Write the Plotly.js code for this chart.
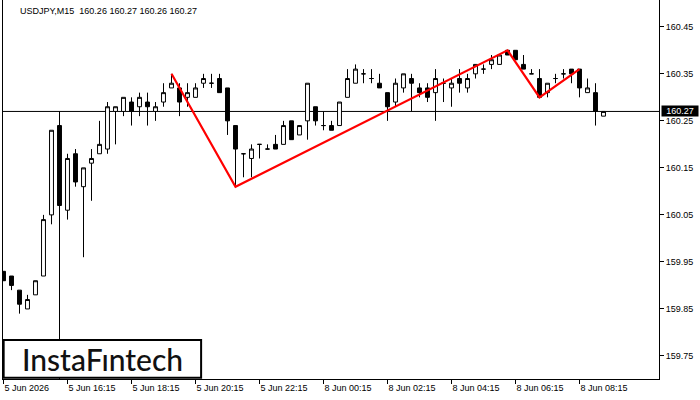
<!DOCTYPE html>
<html>
<head>
<meta charset="utf-8">
<script src="https://cdn.plot.ly/plotly-3.0.1.min.js"></script>
<style>
  html, body { margin: 0; padding: 0; background: #ffffff; }
  #chart { width: 700px; height: 400px; }
</style>
</head>
<body>
<div id="chart"></div>
<script>
// 15-minute bars, USDJPY
const times = [
  "5 Jun 14:15","5 Jun 14:30","5 Jun 14:45","5 Jun 15:00","5 Jun 15:15","5 Jun 15:30","5 Jun 15:45","5 Jun 16:00",
  "5 Jun 16:15","5 Jun 16:30","5 Jun 16:45","5 Jun 17:00","5 Jun 17:15","5 Jun 17:30","5 Jun 17:45","5 Jun 18:00",
  "5 Jun 18:15","5 Jun 18:30","5 Jun 18:45","5 Jun 19:00","5 Jun 19:15","5 Jun 19:30","5 Jun 19:45","5 Jun 20:00",
  "5 Jun 20:15","5 Jun 20:30","5 Jun 20:45","5 Jun 21:00","5 Jun 21:15","5 Jun 21:30","5 Jun 21:45","5 Jun 22:00",
  "5 Jun 22:15","5 Jun 22:30","5 Jun 22:45","5 Jun 23:00","5 Jun 23:15","5 Jun 23:30","5 Jun 23:45",
  "8 Jun 00:00","8 Jun 00:15","8 Jun 00:30","8 Jun 00:45","8 Jun 01:00","8 Jun 01:15","8 Jun 01:30","8 Jun 01:45",
  "8 Jun 02:00","8 Jun 02:15","8 Jun 02:30","8 Jun 02:45","8 Jun 03:00","8 Jun 03:15","8 Jun 03:30","8 Jun 03:45",
  "8 Jun 04:00","8 Jun 04:15","8 Jun 04:30","8 Jun 04:45","8 Jun 05:00","8 Jun 05:15","8 Jun 05:30","8 Jun 05:45",
  "8 Jun 06:00","8 Jun 06:15","8 Jun 06:30","8 Jun 06:45","8 Jun 07:00","8 Jun 07:15","8 Jun 07:30","8 Jun 07:45",
  "8 Jun 08:00","8 Jun 08:15","8 Jun 08:30","8 Jun 08:45","8 Jun 09:00"
];

const open = [
  159.93,159.92,159.89,159.85,159.88,159.92,160.05,160.24,
  160.06,160.18,160.11,160.16,160.18,160.19,160.27,160.27,
  160.29,160.28,160.29,160.27,160.29,160.32,160.32,160.30,
  160.30,160.33,160.33,160.34,160.32,160.24,160.18,160.17,
  160.20,160.19,160.20,160.20,160.25,160.22,160.25,
  160.28,160.24,160.24,160.24,160.30,160.33,160.35,160.34,
  160.33,160.31,160.29,160.32,160.34,160.32,160.32,160.31,
  160.33,160.32,160.34,160.32,160.35,160.36,160.37,160.37,
  160.40,160.40,160.37,160.35,160.34,160.31,160.34,160.35,
  160.36,160.36,160.31,160.31,160.26
];
const high = [
  159.93,159.92,159.89,159.88,159.91,160.05,160.23,160.27,
  160.18,160.19,160.15,160.19,160.25,160.29,160.28,160.30,
  160.30,160.31,160.31,160.29,160.33,160.35,160.33,160.33,
  160.33,160.35,160.35,160.35,160.32,160.24,160.18,160.20,
  160.20,160.20,160.22,160.25,160.25,160.24,160.33,
  160.28,160.27,160.25,160.29,160.36,160.37,160.36,160.36,
  160.35,160.31,160.34,160.35,160.35,160.33,160.33,160.36,
  160.34,160.34,160.36,160.35,160.37,160.37,160.39,160.39,
  160.40,160.40,160.39,160.36,160.36,160.33,160.35,160.36,
  160.36,160.36,160.34,160.33,160.27
];
const low = [
  159.91,159.89,159.84,159.85,159.88,159.92,160.03,160.06,
  160.04,160.11,159.96,160.08,160.18,160.18,160.20,160.26,
  160.24,160.26,160.24,160.25,160.28,160.32,160.26,160.28,
  160.30,160.32,160.32,160.31,160.22,160.11,160.13,160.13,
  160.17,160.19,160.19,160.20,160.21,160.22,160.21,
  160.24,160.23,160.23,160.24,160.30,160.33,160.33,160.33,
  160.32,160.25,160.28,160.31,160.27,160.30,160.29,160.25,
  160.29,160.28,160.31,160.31,160.34,160.35,160.36,160.37,
  160.39,160.38,160.36,160.35,160.30,160.30,160.33,160.34,
  160.33,160.30,160.31,160.24,160.26
];
const close = [
  159.91,159.90,159.86,159.87,159.91,160.04,160.23,160.07,
  160.17,160.12,160.15,160.17,160.20,160.28,160.28,160.30,
  160.27,160.30,160.28,160.28,160.31,160.33,160.29,160.31,
  160.32,160.34,160.33,160.31,160.25,160.19,160.18,160.19,
  160.20,160.19,160.19,160.24,160.21,160.24,160.33,
  160.25,160.24,160.23,160.29,160.34,160.36,160.35,160.34,
  160.32,160.28,160.33,160.35,160.33,160.31,160.30,160.34,
  160.33,160.33,160.33,160.34,160.37,160.36,160.38,160.39,
  160.39,160.38,160.36,160.35,160.30,160.33,160.34,160.35,
  160.35,160.32,160.32,160.27,160.27
];

// Pattern (red) line vertices
const patternTimes = ["5 Jun 19:30","5 Jun 21:30","8 Jun 06:00","8 Jun 07:00","8 Jun 08:15"];
const patternPrices = [160.35, 160.11, 160.40, 160.30, 160.36];

// Axis ticks
const xTickVals = ["5 Jun 14:15","5 Jun 16:15","5 Jun 18:15","5 Jun 20:15","5 Jun 22:15",
                   "8 Jun 00:15","8 Jun 02:15","8 Jun 04:15","8 Jun 06:15","8 Jun 08:15"];
const xTickText = ["5 Jun 2026","5 Jun 16:15","5 Jun 18:15","5 Jun 20:15","5 Jun 22:15",
                   "8 Jun 00:15","8 Jun 02:15","8 Jun 04:15","8 Jun 06:15","8 Jun 08:15"];
const yTickVals = [159.75, 159.85, 159.95, 160.05, 160.15, 160.25, 160.35, 160.45];
const yTickText = ["159.75","159.85","159.95","160.05","160.15","160.25","160.35","160.45"];

const bidPrice = 160.27;
const markerTime = "5 Jun 16:00";
const headerText = "USDJPY,M15  160.26 160.27 160.26 160.27";
const yRange = [159.701, 160.507];

const FONT = "Liberation Sans, Arial, sans-serif";

const traces = [
  {
    type: "candlestick",
    x: times, open: open, high: high, low: low, close: close,
    increasing: { line: { color: "#000000", width: 1 }, fillcolor: "#ffffff" },
    decreasing: { line: { color: "#000000", width: 1 }, fillcolor: "#000000" },
    whiskerwidth: 0,
    hoverinfo: "skip",
    showlegend: false
  },
  {
    type: "scatter", mode: "lines",
    x: patternTimes, y: patternPrices,
    line: { color: "#ff0000", width: 2.2 },
    hoverinfo: "skip", showlegend: false
  }
];

const layout = {
  width: 700, height: 400,
  margin: { l: 3, r: 41, t: 0, b: 21 },
  paper_bgcolor: "#ffffff", plot_bgcolor: "#ffffff",
  showlegend: false,
  font: { family: FONT, size: 9, color: "#000000" },
  xaxis: {
    type: "category",
    range: [-0.0625, 81.9375],
    rangeslider: { visible: false },
    showgrid: false, zeroline: false,
    showline: true, linecolor: "#000000", linewidth: 1,
    ticks: "outside", ticklen: 4, tickcolor: "#000000", tickwidth: 1,
    tickvals: xTickVals, ticktext: xTickText,
    ticklabelposition: "outside right",
    tickfont: { family: FONT, size: 9, color: "#000000" },
    fixedrange: true
  },
  yaxis: {
    side: "right",
    range: yRange,
    showgrid: false, zeroline: false,
    showline: true, mirror: true, linecolor: "#000000", linewidth: 1,
    ticks: "outside", ticklen: 4, tickcolor: "#000000", tickwidth: 1,
    tickvals: yTickVals, ticktext: yTickText,
    tickfont: { family: FONT, size: 9, color: "#000000" },
    fixedrange: true
  },
  shapes: [
    { type: "line", xref: "paper", yref: "y", x0: 0, x1: 1, y0: bidPrice, y1: bidPrice,
      line: { color: "#000000", width: 1 }, layer: "below" },
    { type: "line", xref: "x", yref: "y", x0: markerTime, x1: markerTime, y0: yRange[0], y1: bidPrice,
      line: { color: "#000000", width: 1 }, layer: "below" },
    { type: "rect", xref: "paper", yref: "paper", x0: 0.001, x1: 0.302, y0: 0.003, y1: 0.103,
      line: { color: "#000000", width: 2 }, fillcolor: "#ffffff", layer: "above" }
  ],
  annotations: [
    { xref: "paper", yref: "paper", x: 0.0229, y: 0.971, xanchor: "left", yanchor: "middle",
      text: headerText, showarrow: false,
      font: { family: FONT, size: 9, color: "#000000" } },
    { xref: "paper", yref: "y", x: 1, y: bidPrice, xanchor: "left", yanchor: "middle", xshift: 2,
      text: bidPrice.toFixed(2), showarrow: false, bgcolor: "#000000", borderpad: 0,
      width: 36, height: 10,
      font: { family: FONT, size: 9, color: "#ffffff" } },
    { xref: "paper", yref: "paper", x: 0.1515, y: 0.052, xanchor: "center", yanchor: "middle",
      text: "InstaFıntech", showarrow: false,
      font: { family: "Lato, Inter, sans-serif", size: 30, color: "#111111", weight: 500 } }
  ]
};

Plotly.newPlot("chart", traces, layout, { displayModeBar: false, staticPlot: true });
</script>
</body>
</html>
